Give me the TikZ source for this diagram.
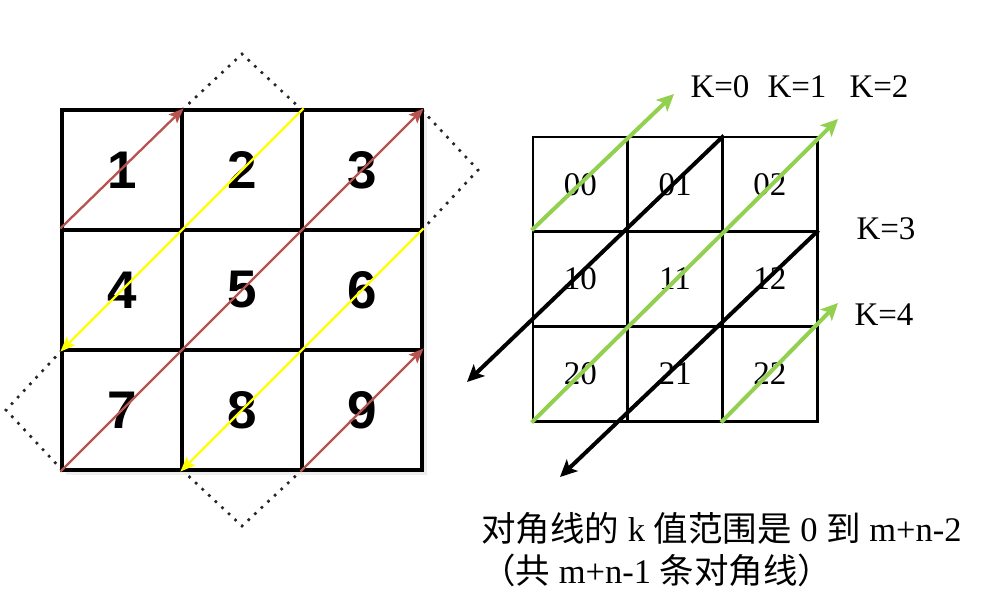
\documentclass[tikz,border=0pt]{standalone}
\usepackage{fontspec}
\setmainfont{Liberation Serif}
\newfontfamily\cjk{Noto Sans CJK SC}
\newfontfamily\numfont{Liberation Sans}
\usetikzlibrary{arrows.meta}
\definecolor{brownred}{RGB}{184,84,80}
\definecolor{yel}{RGB}{255,255,0}
\definecolor{grn}{RGB}{146,208,80}
\tikzset{
  cellL/.style={draw=black, line width=3.2pt, fill=white, minimum size=120pt, inner sep=0pt,
    font=\numfont\bfseries\fontsize{53}{60}\selectfont},
  cellR/.style={draw=black, line width=2.8pt, minimum size=94.7pt, inner sep=0pt,
    font=\fontsize{33}{40}\selectfont},
  dotline/.style={line width=2.6pt, dash pattern=on 2.6pt off 6.4pt, line cap=butt, black!85},
  brownarrow/.style={draw=brownred, line width=2.3pt, -{Stealth[length=15pt,width=12pt,inset=3pt]}},
  yelarrow/.style={draw=yel, line width=2.3pt, -{Stealth[length=15pt,width=12pt,inset=3pt]}},
  grnarrow/.style={draw=grn, line width=4pt, -{Stealth[length=17pt,width=16pt,inset=4pt]}},
  blkarrow/.style={draw=black, line width=4pt, -{Stealth[length=17pt,width=16pt,inset=4pt]}},
  klabel/.style={font=\fontsize{33}{40}\selectfont, inner sep=0pt},
  note/.style={font=\fontsize{34.5}{40}\selectfont, inner sep=0pt, anchor=west}
}
\begin{document}
\begin{tikzpicture}[x=1pt,y=-1pt]
\useasboundingbox[fill=white] (0,0) rectangle (1007,605);
% dotted outlines (drawn first, partly hidden by the grid)
\coordinate (dtA) at (182,110); \coordinate (dtP) at (242,54); \coordinate (dtB) at (302,110);
\coordinate (drA) at (422,110); \coordinate (drP) at (478,170); \coordinate (drB) at (422,230);
\coordinate (dlA) at (62,350); \coordinate (dlP) at (6,410); \coordinate (dlB) at (62,470);
\coordinate (dbA) at (182,470); \coordinate (dbP) at (242,526); \coordinate (dbB) at (302,470);
\draw[dotline] (dtA) -- (dtP) -- (dtB);
\draw[dotline] (drA) -- (drP) -- (drB);
\draw[dotline] (dlA) -- (dlP) -- (dlB);
\draw[dotline] (dbA) -- (dbP) -- (dbB);
% soft shadow of left grid
\fill[black!7] (66,114) rectangle (427,475);
% left grid
\node[cellL] (c1) at (122,170) {1};
\node[cellL] (c2) at (242,170) {2};
\node[cellL] (c3) at (362,170) {3};
\node[cellL] (c4) at (122,290) {4};
\node[cellL] (c5) at (242,290) {5};
\node[cellL] (c6) at (362,290) {6};
\node[cellL] (c7) at (122,410) {7};
\node[cellL] (c8) at (242,410) {8};
\node[cellL] (c9) at (362,410) {9};
\draw[brownarrow] (c4.north west) -- (c1.north east);
\draw[brownarrow] (c7.south west) -- (c3.north east);
\draw[brownarrow] (c9.south west) -- (c9.north east);
\draw[yelarrow] (c2.north east) -- (c4.south west);
\draw[yelarrow] (c6.north east) -- (c8.south west);
% right grid
\node[cellR] (r00) at (580.35,184.35) {00};
\node[cellR] (r01) at (675.05,184.35) {01};
\node[cellR] (r02) at (769.75,184.35) {02};
\node[cellR] (r10) at (580.35,279.05) {10};
\node[cellR] (r11) at (675.05,279.05) {11};
\node[cellR] (r12) at (769.75,279.05) {12};
\node[cellR] (r20) at (580.35,373.75) {20};
\node[cellR] (r21) at (675.05,373.75) {21};
\node[cellR] (r22) at (769.75,373.75) {22};
\coordinate (e0) at (674,94);
\coordinate (e1) at (467,382);
\coordinate (e2) at (838,119);
\coordinate (e3) at (560,477);
\coordinate (e4) at (838,303);
\draw[grnarrow] (r10.north west) -- (e0);
\draw[blkarrow] (r01.north east) -- (e1);
\draw[grnarrow] (r20.south west) -- (e2);
\draw[blkarrow] (r12.north east) -- (e3);
\draw[grnarrow] (r22.south west) -- (e4);
% labels
\node[klabel] (k0) at (720,87) {K=0};
\node[klabel] (k1) at (797,87) {K=1};
\node[klabel] (k2) at (879,87) {K=2};
\node[klabel] (k3) at (886,229) {K=3};
\node[klabel] (k4) at (884,315) {K=4};
\node[note] (n1) at (481,528) {{\cjk 对角线的} k {\cjk 值范围是} 0 {\cjk 到} m+n-2};
\node[note] (n2) at (481,570) {{\cjk （共} m+n-1 {\cjk 条对角线）}};
\end{tikzpicture}
\end{document}
